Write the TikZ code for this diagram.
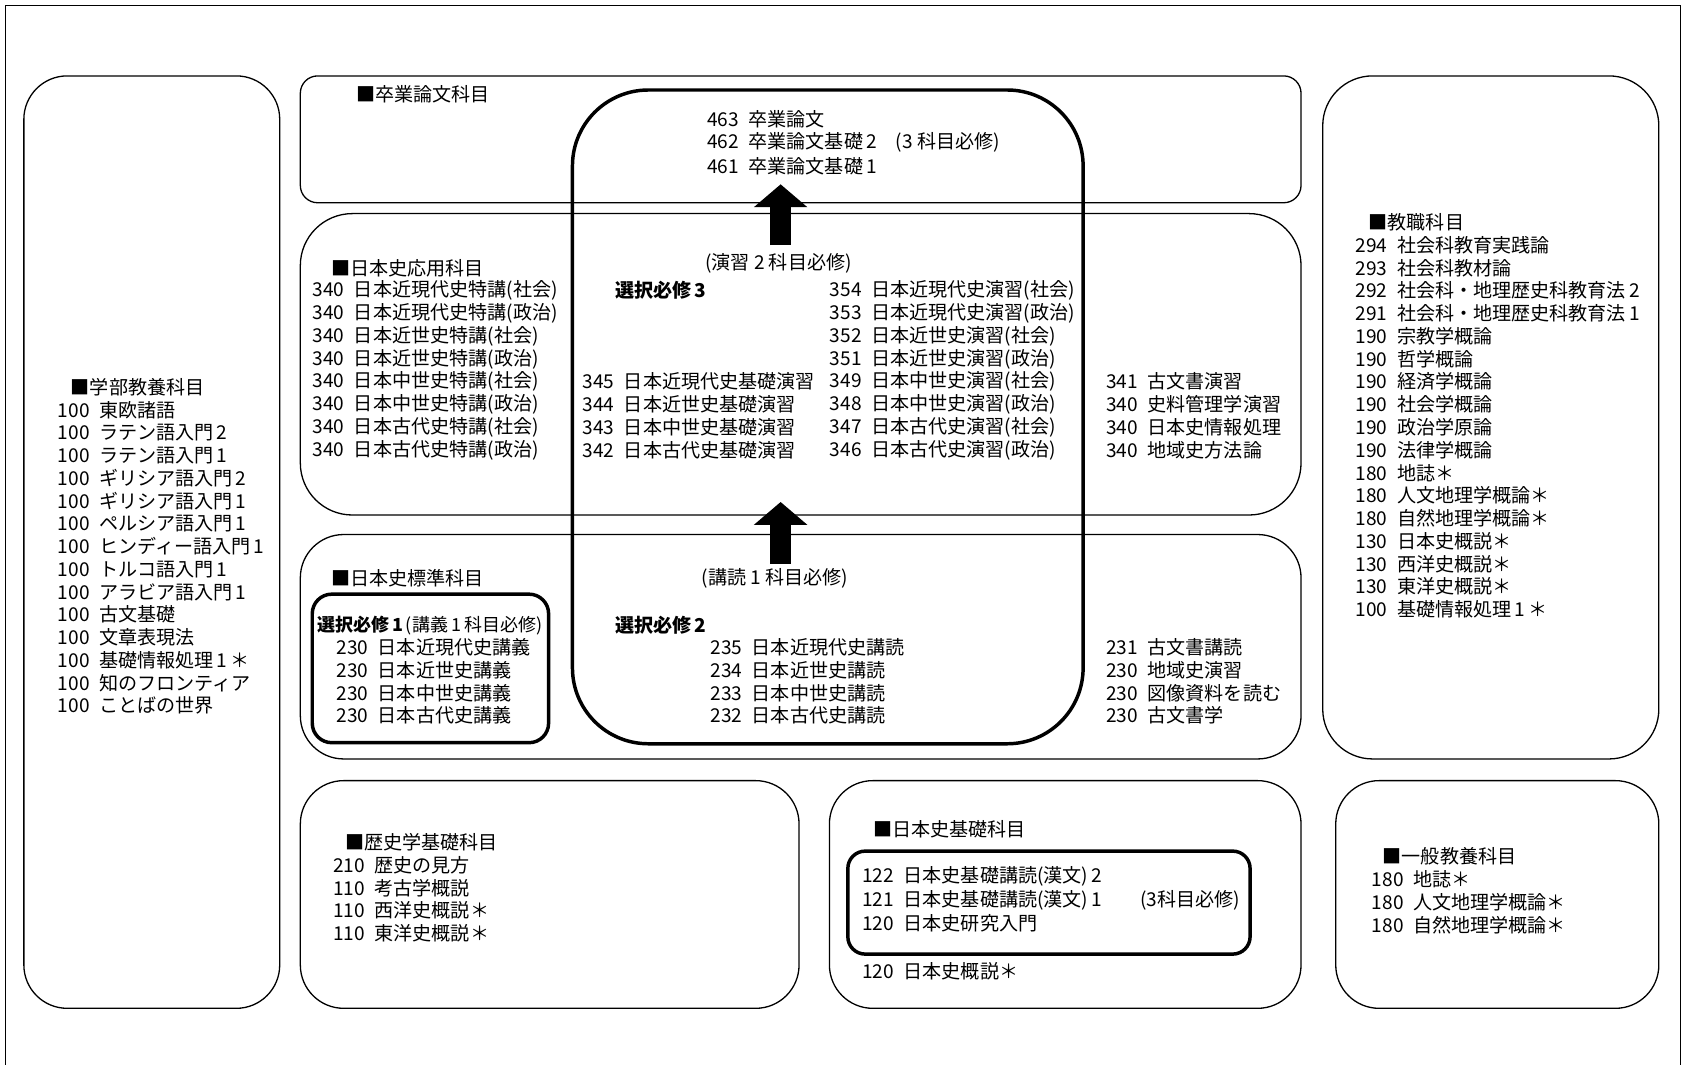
\documentclass[tikz,border=0pt]{standalone}
\usepackage{fontspec}
\setmainfont{Noto Sans CJK JP}
\usetikzlibrary{arrows.meta}

\tikzset{
  item/.style={anchor=west, inner sep=0pt, font=\fontsize{8.8pt}{10pt}\selectfont},
  area/.style={draw, line width=0.6pt, rounded corners=20pt},
  thickarea/.style={draw, line width=1.6pt},
  fatarrow/.style={line width=10pt, -{Triangle[length=10.5pt,width=24pt]}},
}

\begin{document}
\begin{tikzpicture}[x=0.5pt, y=-0.5pt]
  \useasboundingbox (0,0) rectangle (1556,982);
  % frame, open at the bottom
  \draw[line width=0.6pt] (5,982) -- (5,5) -- (1550,5) -- (1550,982);
  % groups
  \draw[area] (22,70) rectangle (258,930);
  \draw[area, rounded corners=8pt] (277,70) rectangle (1200,187);
  \draw[area, rounded corners=24pt] (277,197) rectangle (1200,475);
  \draw[area] (277,493) rectangle (1200,700);
  \draw[area, rounded corners=23pt] (1220,70) rectangle (1530,700);
  \draw[area] (277,720) rectangle (737,930);
  \draw[area] (765,720) rectangle (1200,930);
  \draw[area] (1232,720) rectangle (1530,930);
  % required blocks
  \draw[thickarea, rounded corners=35pt] (528,83) rectangle (999,686);
  \draw[thickarea, rounded corners=9pt] (288,548) rectangle (506,685);
  \draw[thickarea, rounded corners=8pt] (782,785) rectangle (1153,880);

  % 学部教養科目
  \node[item] (gakubu) at (65,357) {■学部教養科目};
  \foreach \t [count=\i from 0] in {東欧諸語, ラテン語入門\,2, ラテン語入門\,1, ギリシア語入門\,2, ギリシア語入門\,1, ペルシア語入門\,1, ヒンディー語入門\,1, トルコ語入門\,1, アラビア語入門\,1, 古文基礎, 文章表現法, 基礎情報処理\,1\,＊, 知のフロンティア, ことばの世界}
    \node[item] (gk\i) at (53,378+21*\i) {100\enspace\t};

  % 卒業論文科目
  \node[item] (sotsu) at (328,87) {■卒業論文科目};
  \node[item] (s463) at (652,110) {463\enspace 卒業論文};
  \node[item] (s462) at (652,131) {462\enspace 卒業論文基礎\,2\quad(3 科目必修)};
  \node[item] (s461) at (652,153) {461\enspace 卒業論文基礎\,1};
  \coordinate (up1) at (720,226);
  \coordinate (up1tip) at (720,170);
  \draw[fatarrow] (up1) -- (up1tip);

  % 日本史応用科目
  \node[item] (oyo) at (305,247) {■日本史応用科目};
  \node[item] (ensyu) at (650,243) {(演習 2 科目必修)};
  \node[item] (sen3) at (567,268) {\textbf{選択必修\,3}};
  \foreach \t [count=\i from 0] in {日本近現代史特講(社会), 日本近現代史特講(政治), 日本近世史特講(社会), 日本近世史特講(政治), 日本中世史特講(社会), 日本中世史特講(政治), 日本古代史特講(社会), 日本古代史特講(政治)}
    \node[item] (oy\i) at (288,268+21*\i) {340\enspace\t};
  \foreach \n/\t [count=\i from 0] in {345/日本近現代史基礎演習, 344/日本近世史基礎演習, 343/日本中世史基礎演習, 342/日本古代史基礎演習}
    \node[item] (ki\i) at (537,352+21*\i) {\n\enspace\t};
  \foreach \n/\t [count=\i from 0] in {354/日本近現代史演習(社会), 353/日本近現代史演習(政治), 352/日本近世史演習(社会), 351/日本近世史演習(政治), 349/日本中世史演習(社会), 348/日本中世史演習(政治), 347/日本古代史演習(社会), 346/日本古代史演習(政治)}
    \node[item] (en\i) at (765,268+21*\i) {\n\enspace\t};
  \foreach \n/\t [count=\i from 0] in {341/古文書演習, 340/史料管理学演習, 340/日本史情報処理, 340/地域史方法論}
    \node[item] (ot\i) at (1020,352+21*\i) {\n\enspace\t};
  \coordinate (up2) at (720,520);
  \coordinate (up2tip) at (720,463);
  \draw[fatarrow] (up2) -- (up2tip);

  % 日本史標準科目
  \node[item] (hyojun) at (305,533) {■日本史標準科目};
  \node[item] (koudoku) at (647,533) {(講読 1 科目必修)};
  \node[item, font=\fontsize{8.3pt}{10pt}\selectfont] (sen1) at (292,577) {\textbf{選択必修\,1}\,(講義\,1\,科目必修)};
  \node[item] (sen2) at (567,577) {\textbf{選択必修\,2}};
  \foreach \t [count=\i from 0] in {日本近現代史講義, 日本近世史講義, 日本中世史講義, 日本古代史講義}
    \node[item] (kg\i) at (310,597+21*\i) {230\enspace\t};
  \foreach \n/\t [count=\i from 0] in {235/日本近現代史講読, 234/日本近世史講読, 233/日本中世史講読, 232/日本古代史講読}
    \node[item] (kd\i) at (655,597+21*\i) {\n\enspace\t};
  \foreach \n/\t [count=\i from 0] in {231/古文書講読, 230/地域史演習, 230/図像資料を読む, 230/古文書学}
    \node[item] (hs\i) at (1020,597+21*\i) {\n\enspace\t};

  % 教職科目
  \node[item] (kyoshoku) at (1262,205) {■教職科目};
  \foreach \n/\t [count=\i from 0] in {294/社会科教育実践論, 293/社会科教材論, 292/社会科・地理歴史科教育法\,2, 291/社会科・地理歴史科教育法\,1, 190/宗教学概論, 190/哲学概論, 190/経済学概論, 190/社会学概論, 190/政治学原論, 190/法律学概論, 180/地誌＊, 180/人文地理学概論＊, 180/自然地理学概論＊, 130/日本史概説＊, 130/西洋史概説＊, 130/東洋史概説＊, 100/基礎情報処理\,1\,＊}
    \node[item] (ks\i) at (1250,226+21*\i) {\n\enspace\t};

  % 歴史学基礎科目
  \node[item] (rekishi) at (318,777) {■歴史学基礎科目};
  \foreach \n/\t [count=\i from 0] in {210/歴史の見方, 110/考古学概説, 110/西洋史概説＊, 110/東洋史概説＊}
    \node[item] (rk\i) at (307,798+21*\i) {\n\enspace\t};

  % 日本史基礎科目
  \node[item] (kiso) at (805,765) {■日本史基礎科目};
  \node[item] (b122) at (795,808) {122\enspace 日本史基礎講読(漢文)\,2};
  \node[item] (b121) at (795,830) {121\enspace 日本史基礎講読(漢文)\,1\hspace{2em}(3科目必修)};
  \node[item] (b120) at (795,852) {120\enspace 日本史研究入門};
  \node[item] (b120g) at (795,896) {120\enspace 日本史概説＊};

  % 一般教養科目
  \node[item] (ippan) at (1275,790) {■一般教養科目};
  \foreach \t [count=\i from 0] in {地誌＊, 人文地理学概論＊, 自然地理学概論＊}
    \node[item] (ip\i) at (1265,811+21*\i) {180\enspace\t};
\end{tikzpicture}
\end{document}
